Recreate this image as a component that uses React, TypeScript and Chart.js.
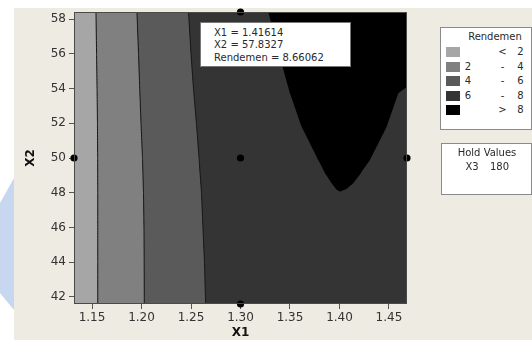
import React, { useEffect, useRef } from 'react';
import { Chart, registerables } from 'chart.js';

Chart.register(...registerables);

// ---- axis ranges / ticks ----
const X1_MIN = 1.1318;
const X1_MAX = 1.4682;
const X2_MIN = 41.59;
const X2_MAX = 58.41;
const xTicks = [1.15, 1.2, 1.25, 1.3, 1.35, 1.4, 1.45];
const yTicks = [42, 44, 46, 48, 50, 52, 54, 56, 58];

// ---- contour boundaries (X1 as a function of X2) ----
const contourX2 = [58.41, 56, 54, 52, 50, 48, 46, 44, 41.59];
const contour2X1 = [1.154, 1.1546, 1.1551, 1.1555, 1.1557, 1.1558, 1.1558, 1.1558, 1.1558];
const contour4X1 = [1.1954, 1.197, 1.1982, 1.1995, 1.201, 1.202, 1.2025, 1.2027, 1.2028];
const contour6X1 = [1.2475, 1.25, 1.2525, 1.2555, 1.2581, 1.2606, 1.2621, 1.2636, 1.2648];

// ---- contour 8 (closed black region) ----
const contour8X1 = [1.3281, 1.3406, 1.35, 1.3618, 1.3786, 1.3853, 1.3921, 1.3969, 1.4005, 1.4071, 1.4139, 1.4217, 1.4308, 1.4477, 1.4594, 1.4682];
const contour8X2 = [58.41, 55.65, 53.73, 51.8, 49.88, 49.14, 48.54, 48.18, 48.06, 48.21, 48.54, 49.14, 49.88, 51.8, 53.73, 54.09];

// ---- design points ----
const designX1 = [1.1318, 1.3, 1.4682, 1.3, 1.3];
const designX2 = [50, 50, 50, 41.59, 58.41];

// ---- legend ----
const levelColors = ['#A6A6A6', '#808080', '#5A5A5A', '#343434', '#000000'];
const legendLow = ['', '2', '4', '6', ''];
const legendSep = ['<', '-', '-', '-', '>'];
const legendHigh = ['2', '4', '6', '8', '8'];
const legendTitle = 'Rendemen';
const holdTitle = 'Hold Values';
const holdName = 'X3';
const holdValue = '180';
const infoLines = ['X1 = 1.41614', 'X2 = 57.8327', 'Rendemen = 8.66062'];

const FONT = '"DejaVu Sans", Verdana, sans-serif';
const TINY_TENSION = 0.00001;

type P = { x: number; y: number };
const curve = (xs: number[], ys: number[]): P[] => xs.map((x, i) => ({ x, y: ys[i] }));

function polyDataset(data: P[], color: string, order: number) {
  return {
    data,
    showLine: true,
    fill: 'shape',
    backgroundColor: color,
    borderColor: color,
    borderWidth: 0,
    pointRadius: 0,
    tension: TINY_TENSION,
    order,
  };
}

function lineDataset(data: P[], order: number) {
  return {
    data,
    showLine: true,
    fill: false,
    borderColor: '#151515',
    borderWidth: 1,
    pointRadius: 0,
    tension: TINY_TENSION,
    order,
  };
}

const borderPlugin = {
  id: 'plotBorder',
  afterDatasetsDraw(chart: any) {
    const { ctx, chartArea: a } = chart;
    ctx.save();
    ctx.strokeStyle = '#4a4a4a';
    ctx.lineWidth = 1;
    ctx.strokeRect(Math.round(a.left) + 0.5, Math.round(a.top) + 0.5, Math.round(a.right - a.left) - 1, Math.round(a.bottom - a.top) - 1);
    ctx.restore();
  },
};

function T(props: { x: number; y: number; text: string; align?: 'left' | 'center'; size?: number; bold?: boolean }) {
  const { x, y, text, align = 'center', size = 10, bold } = props;
  return (
    <span
      style={{
        position: 'absolute',
        left: x,
        top: y,
        transform: align === 'center' ? 'translate(-50%, -50%)' : 'translate(0, -50%)',
        whiteSpace: 'nowrap',
        fontFamily: FONT,
        fontSize: size,
        fontWeight: bold ? 'bold' : 'normal',
        color: '#2a2a2a',
        lineHeight: 1,
      }}
    >
      {text}
    </span>
  );
}

export default function App() {
  const ref = useRef<HTMLCanvasElement | null>(null);

  useEffect(() => {
    if (!ref.current) return;
    const c2 = curve(contour2X1, contourX2);
    const c4 = curve(contour4X1, contourX2);
    const c6 = curve(contour6X1, contourX2);
    const c8 = curve(contour8X1, contour8X2);
    const rev = (a: P[]) => a.slice().reverse();

    const regionLow = [{ x: X1_MIN, y: X2_MAX }, ...c2, { x: X1_MIN, y: X2_MIN }];
    const region24 = [...c2, ...rev(c4)];
    const region46 = [...c4, ...rev(c6)];
    const region68 = [
      { x: X1_MIN, y: X2_MAX },
      { x: X1_MAX, y: X2_MAX },
      { x: X1_MAX, y: X2_MIN },
      { x: X1_MIN, y: X2_MIN },
    ];
    const regionHigh = [...c8, { x: X1_MAX, y: X2_MAX }];

    const chart = new Chart(ref.current, {
      type: 'scatter',
      data: {
        datasets: [
          {
            data: curve(designX1, designX2),
            pointRadius: 3.6,
            pointHoverRadius: 3.6,
            backgroundColor: '#000',
            borderColor: '#000',
            borderWidth: 0,
            showLine: false,
            clip: false,
            order: 0,
          },
          lineDataset(c2, 1),
          lineDataset(c4, 1),
          lineDataset(c6, 1),
          polyDataset(regionHigh, levelColors[4], 2),
          polyDataset(regionLow, levelColors[0], 3),
          polyDataset(region24, levelColors[1], 3),
          polyDataset(region46, levelColors[2], 3),
          polyDataset(region68, levelColors[3], 4),
        ] as any,
      },
      options: {
        animation: false,
        responsive: false,
        events: [],
        layout: { padding: { left: 14, top: 12, right: 125, bottom: 0 } },
        plugins: { legend: { display: false }, tooltip: { enabled: false } },
        scales: {
          x: {
            type: 'linear',
            min: X1_MIN,
            max: X1_MAX,
            afterBuildTicks: (s: any) => {
              s.ticks = xTicks.map((v) => ({ value: v }));
            },
            afterFit: (s: any) => {
              s.height = 36;
            },
            ticks: {
              autoSkip: false,
              maxRotation: 0,
              padding: 2,
              color: '#333',
              font: { family: FONT, size: 12 },
              callback: (v: any) => Number(v).toFixed(2),
            },
            grid: { drawOnChartArea: false, drawTicks: true, tickLength: 5, color: '#555' },
            border: { display: false },
            title: { display: true, text: 'X1', color: '#111', font: { family: FONT, size: 12, weight: 'bold' }, padding: 0 },
          },
          y: {
            type: 'linear',
            min: X2_MIN,
            max: X2_MAX,
            afterBuildTicks: (s: any) => {
              s.ticks = yTicks.map((v) => ({ value: v }));
            },
            afterFit: (s: any) => {
              s.width = 60;
            },
            ticks: {
              autoSkip: false,
              padding: 3,
              color: '#333',
              font: { family: FONT, size: 12 },
              callback: (v: any) => String(v),
            },
            grid: { drawOnChartArea: false, drawTicks: true, tickLength: 5, color: '#555' },
            border: { display: false },
            title: { display: true, text: 'X2', color: '#111', font: { family: FONT, size: 12, weight: 'bold' }, padding: { top: 10, bottom: 0 } },
          },
        },
      } as any,
      plugins: [borderPlugin],
    });
    return () => chart.destroy();
  }, []);

  const rowY = [24, 38.5, 53, 67.5, 82];

  return (
    <div style={{ position: 'absolute', left: 0, top: 0, width: 532, height: 340, background: '#fff', overflow: 'hidden' }}>
      <div
        style={{
          position: 'absolute',
          left: 0,
          top: 178,
          width: 14,
          height: 132,
          background: '#C7D7EF',
          clipPath: 'polygon(100% 0, 0 25px, 0 115px, 100% 100%)',
        }}
      />
      <div style={{ position: 'absolute', left: 14, top: 8, right: 0, bottom: 0, background: '#EEEBE2' }} />
      <canvas ref={ref} width={532} height={340} style={{ position: 'absolute', left: 0, top: 0, width: 532, height: 340 }} />

      {/* info box */}
      <div
        style={{
          position: 'absolute',
          left: 200,
          top: 22,
          width: 151,
          height: 45,
          boxSizing: 'border-box',
          background: '#fff',
          border: '1px solid #777',
        }}
      >
        {infoLines.map((t, i) => (
          <T key={t} x={13} y={9.5 + i * 12.5} text={t} align="left" />
        ))}
      </div>

      {/* legend */}
      <div
        style={{
          position: 'absolute',
          left: 440,
          top: 27,
          width: 92,
          height: 103,
          boxSizing: 'border-box',
          background: '#fff',
          border: '1px solid #8a8a8a',
        }}
      >
        <T x={54} y={8.5} text={legendTitle} />
        {levelColors.map((c, i) => (
          <React.Fragment key={c}>
            <div style={{ position: 'absolute', left: 4.5, top: rowY[i] - 5, width: 14, height: 10, background: c }} />
            {legendLow[i] ? <T x={27} y={rowY[i]} text={legendLow[i]} /> : null}
            <T x={61.5} y={rowY[i]} text={legendSep[i]} />
            <T x={79.5} y={rowY[i]} text={legendHigh[i]} />
          </React.Fragment>
        ))}
      </div>

      {/* hold values */}
      <div
        style={{
          position: 'absolute',
          left: 441,
          top: 143,
          width: 91,
          height: 52,
          boxSizing: 'border-box',
          background: '#fff',
          border: '1px solid #8a8a8a',
        }}
      >
        <T x={45} y={9} text={holdTitle} />
        <T x={30} y={23} text={holdName} />
        <T x={57.5} y={23} text={holdValue} />
      </div>
    </div>
  );
}
